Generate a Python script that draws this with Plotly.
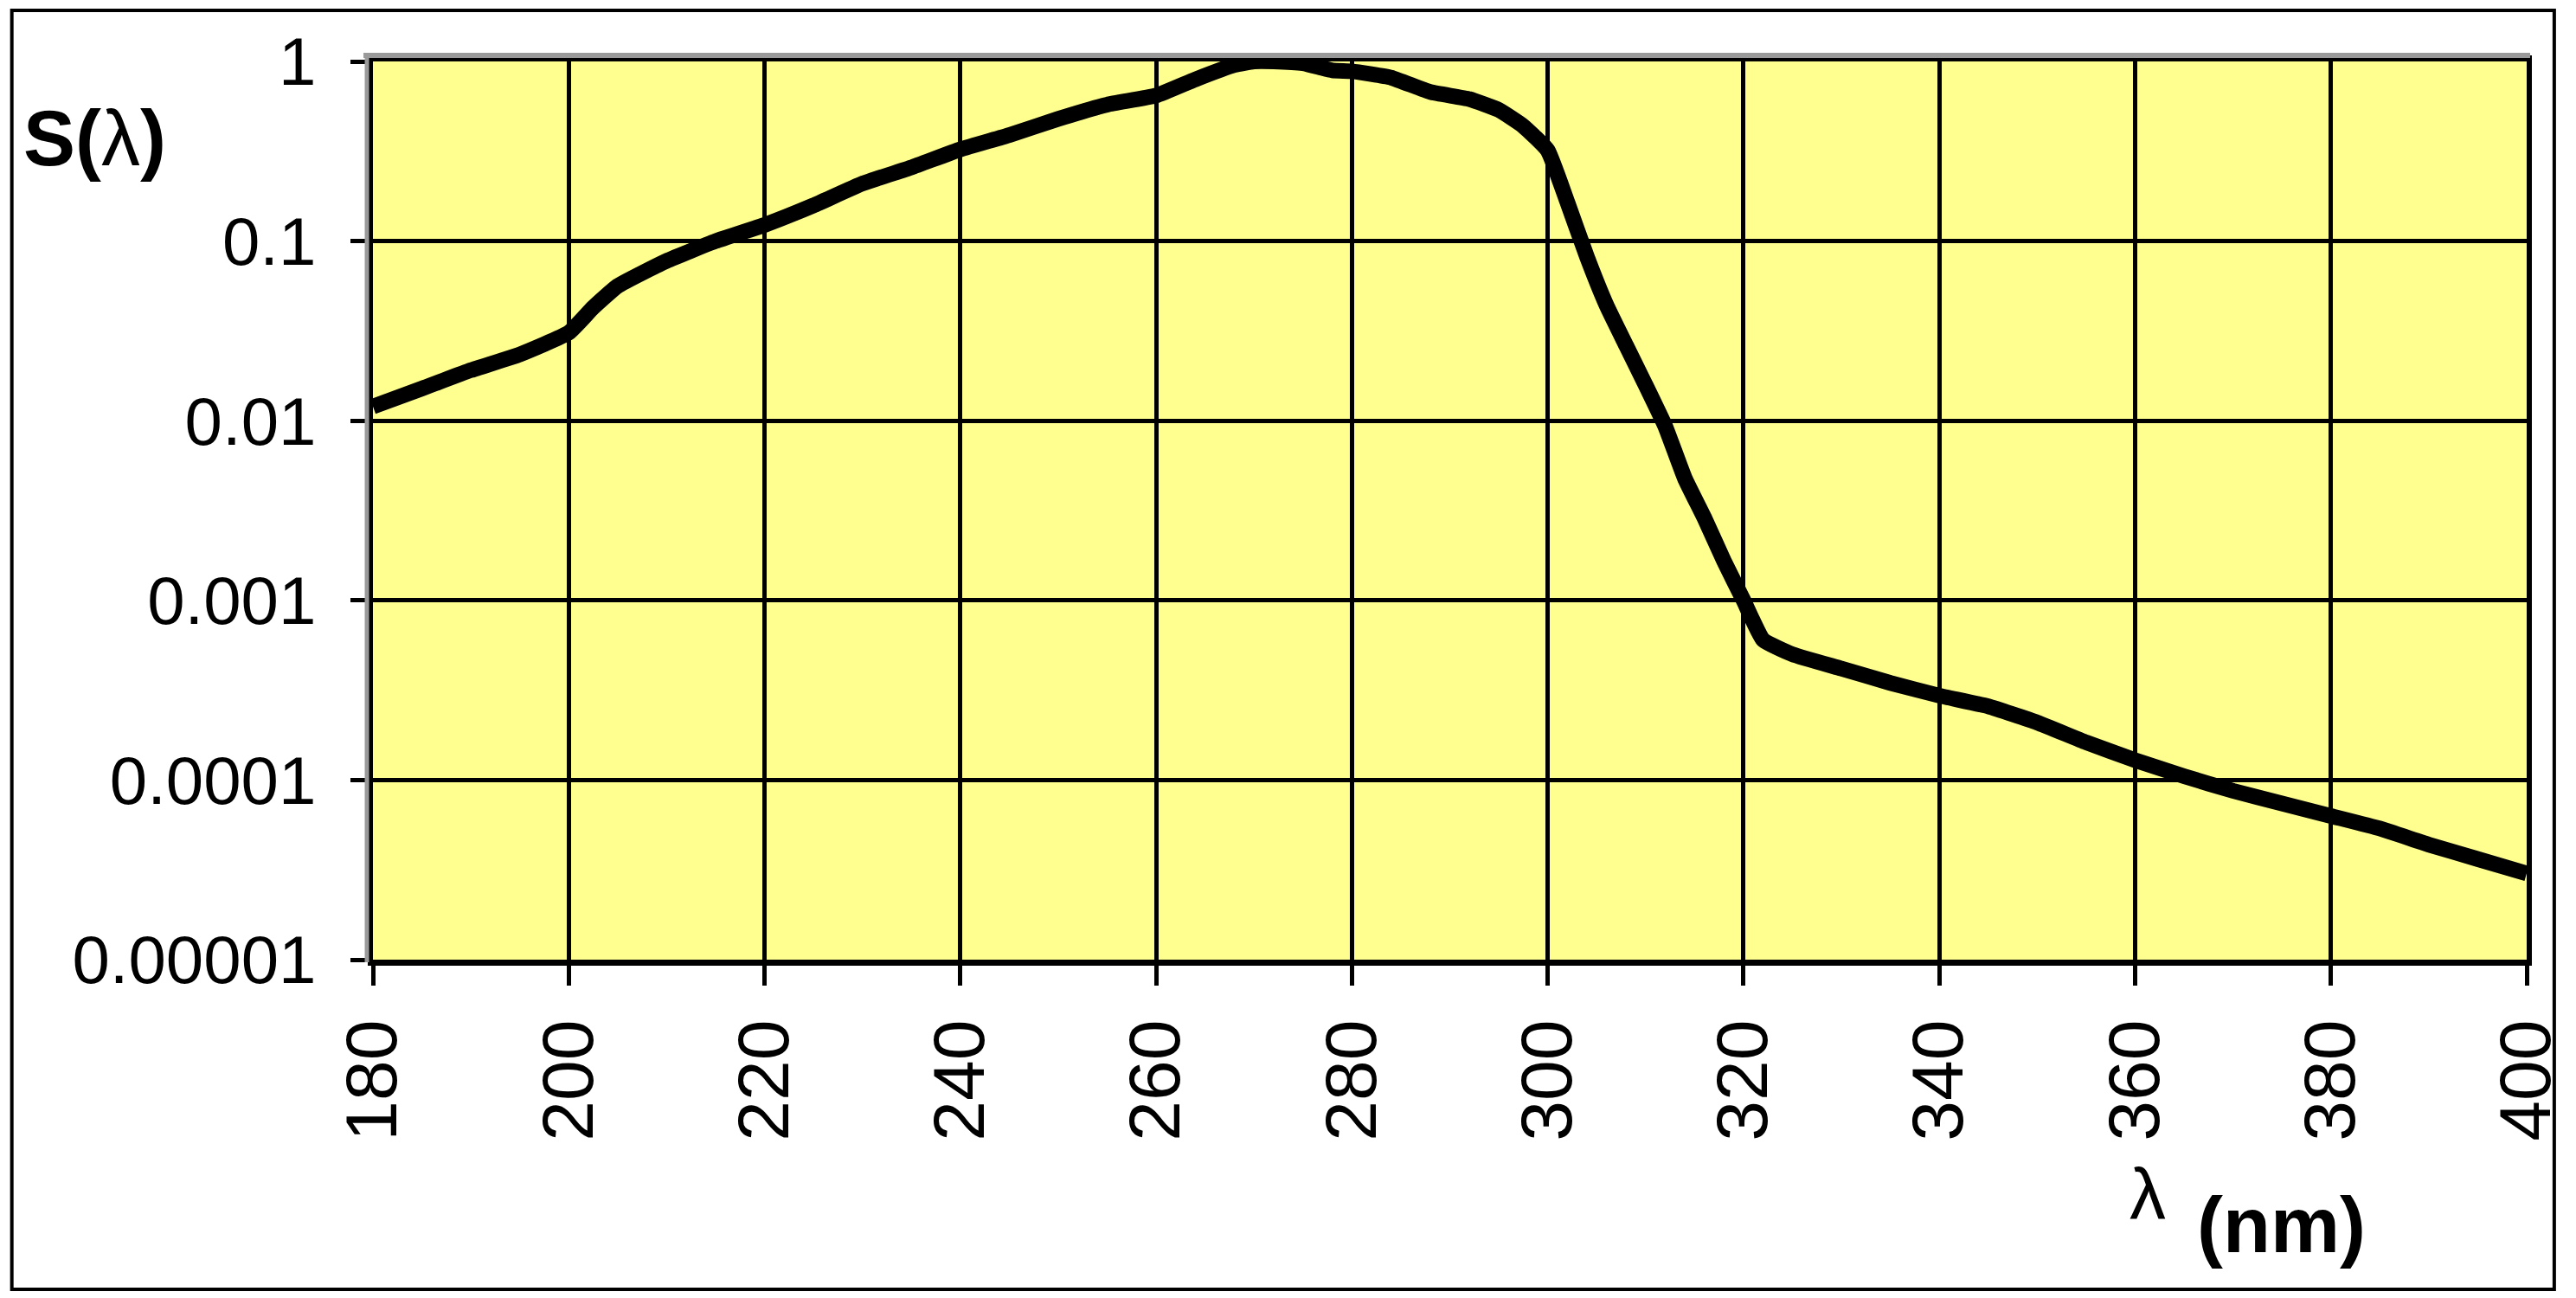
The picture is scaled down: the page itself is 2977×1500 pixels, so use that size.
import plotly.graph_objects as go

# wavelength (nm)
wavelength = [180, 185, 190, 195, 200, 202.5, 205, 210, 215, 220, 225, 230, 235, 240,
              245, 250, 255, 260, 264, 268, 270, 272, 275, 278, 280, 284, 288, 292,
              295, 297.5, 300, 302, 304, 306, 308, 310, 312, 314, 316, 318, 320, 322,
              325, 330, 335, 340, 345, 350, 355, 360, 365, 370, 375, 380, 385, 390,
              395, 400]
# relative spectral effectiveness S(lambda)
s_values = [0.0120, 0.0151, 0.0191, 0.0234, 0.0309, 0.0427, 0.0562, 0.0776, 0.100,
            0.123, 0.158, 0.209, 0.257, 0.324, 0.389, 0.479, 0.575, 0.646, 0.794,
            0.955, 1.0, 1.0, 0.977, 0.891, 0.881, 0.813, 0.676, 0.617, 0.537, 0.437,
            0.32, 0.165, 0.0820, 0.0440, 0.0263, 0.0158, 0.00933, 0.00479, 0.00288,
            0.00166, 0.00100, 0.000603, 0.000501, 0.000417, 0.000347, 0.000295,
            0.000257, 0.000209, 0.000162, 0.000129, 0.000105, 0.0000871, 0.0000741,
            0.0000631, 0.0000537, 0.0000437, 0.0000363, 0.0000302]

x_ticks = [180, 200, 220, 240, 260, 280, 300, 320, 340, 360, 380, 400]
y_tickvals = [1e-5, 1e-4, 1e-3, 1e-2, 1e-1, 1]
y_ticktext = ["0.00001", "0.0001", "0.001", "0.01", "0.1", "1"]

W, H = 2977, 1500
L, R, T, B = 431, 47, 71, 391
PW, PH = W - L - R, H - T - B


def px(xp):
    return (xp - L) / PW


def py(yp):
    return (H - B - yp) / PH


fig = go.Figure()
fig.add_trace(go.Scatter(
    x=wavelength, y=s_values, mode="lines",
    line=dict(color="black", width=18, shape="spline", smoothing=0.4),
    showlegend=False, hoverinfo="skip",
))

fig.update_layout(
    width=W, height=H, autosize=False,
    margin=dict(l=L, r=R, t=T, b=B, pad=0),
    paper_bgcolor="white",
    plot_bgcolor="#FFFF90",
    showlegend=False,
)

fig.update_xaxes(
    range=[180, 400], tickvals=x_ticks, ticktext=[str(v) for v in x_ticks],
    tickangle=-90,
    tickfont=dict(family="Liberation Sans, Arial, sans-serif", size=84, color="black"),
    ticks="outside", ticklen=23, tickwidth=5, tickcolor="black",
    ticklabelstandoff=6,
    showgrid=True, gridcolor="black", gridwidth=5,
    showline=True, linecolor="black", linewidth=7, mirror=True,
    zeroline=False,
)
fig.update_yaxes(
    type="log", range=[-5, 0], tickvals=y_tickvals, ticktext=y_ticktext,
    tickfont=dict(family="Liberation Sans, Arial, sans-serif", size=78, color="black"),
    ticks="outside", ticklen=20, tickwidth=5, tickcolor="black",
    ticklabelstandoff=24,
    showgrid=True, gridcolor="black", gridwidth=5,
    showline=True, linecolor="black", linewidth=6, mirror=True,
    zeroline=False,
)

shapes = [
    # outer frame
    dict(type="rect", xref="paper", yref="paper",
         x0=px(12), x1=px(2962), y0=py(1490), y1=py(12),
         line=dict(color="black", width=4), fillcolor="rgba(0,0,0,0)", layer="above"),
    # grey shadow on top and left of plot area
    dict(type="line", xref="paper", yref="paper",
         x0=px(420), x1=px(2934), y0=py(64), y1=py(64),
         line=dict(color="#9a9a9a", width=6)),
    dict(type="line", xref="paper", yref="paper",
         x0=px(424), x1=px(424), y0=py(1112), y1=py(64),
         line=dict(color="#9a9a9a", width=5)),
]
fig.update_layout(shapes=shapes)

annotations = [
    dict(text="<b>S(</b>λ<b>)</b>", xref="paper", yref="paper",
         x=px(108), y=py(160), xanchor="center", yanchor="middle", showarrow=False,
         font=dict(family="Liberation Sans, Arial, sans-serif", size=90, color="black")),
    dict(text="λ", xref="paper", yref="paper",
         x=px(2490), y=py(1380), xanchor="center", yanchor="middle", showarrow=False,
         font=dict(family="Liberation Sans, Arial, sans-serif", size=84, color="black")),
    dict(text="<b>(nm)</b>", xref="paper", yref="paper",
         x=px(2645), y=py(1416), xanchor="center", yanchor="middle", showarrow=False,
         font=dict(family="Liberation Sans, Arial, sans-serif", size=90, color="black")),
]
fig.update_layout(annotations=annotations)

fig.write_html("out.html", config={"displayModeBar": False},
               post_script="document.body.style.margin='0px';")
